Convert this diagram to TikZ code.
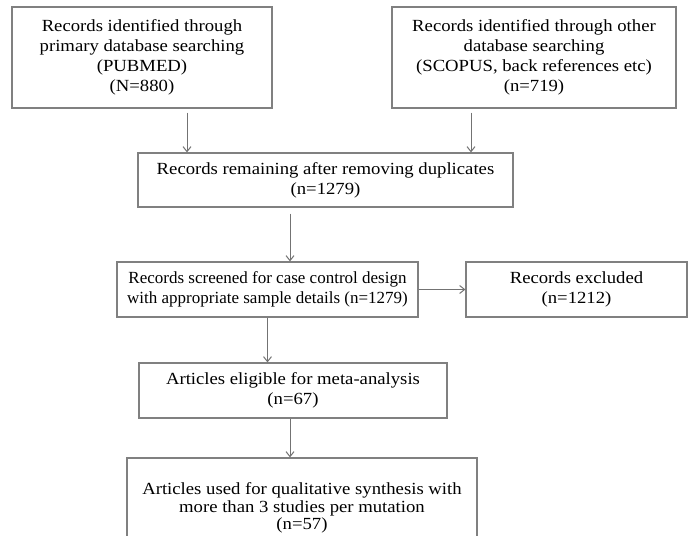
\documentclass[tikz,border=0pt]{standalone}
\usepackage{fontspec}
\setmainfont{Liberation Serif}[FakeStretch=1.1]
\newfontfamily\plainserif{Liberation Serif}
\usetikzlibrary{arrows.meta}

\begin{document}
\begin{tikzpicture}[x=1pt, y=-1pt,
    box/.style={draw=black!50, line width=1.2pt, align=center, inner sep=0pt,
      font=\fontsize{17}{20}\selectfont},
    arr/.style={draw=black!55, line width=1pt, -{Straight Barb[length=5pt,width=8pt]}}]
    \path[use as bounding box] (0,0) rectangle (690,535);
    \clip (0,0) rectangle (690,535);
    % boxes
    \node[box, minimum width=260pt, minimum height=101pt] (pubmed) at (142,57.5)
      {Records identified through\\ primary database searching\\ (PUBMED)\\ (N=880)};
    \node[box, minimum width=284pt, minimum height=101pt] (other) at (534,57.5)
      {Records identified through other\\ database searching\\ (SCOPUS, back references etc)\\ (n=719)};
    \node[box, minimum width=375pt, minimum height=54pt] (dedup) at (325.5,180)
      {Records remaining after removing duplicates\\ (n=1279)};
    \node[box, minimum width=301pt, minimum height=55pt, font=\plainserif\fontsize{17}{20}\selectfont]
      (screen) at (267.5,289.5)
      {Records screened for case control design\\ with appropriate sample details (n=1279)};
    \node[box, minimum width=221pt, minimum height=55pt] (excluded) at (576.5,289.5)
      {Records excluded\\ (n=1212)};
    \node[box, minimum width=308pt, minimum height=55pt] (eligible) at (293,390.5)
      {Articles eligible for meta-analysis\\ (n=67)};
    \node[box, minimum width=350pt, minimum height=100pt, font=\fontsize{17}{17.5}\selectfont]
      (synth) at (302,508)
      {Articles used for qualitative synthesis with\\ more than 3 studies per mutation\\ (n=57)};
    % arrows
    \draw[arr, shorten <=4pt] ([xshift=45pt]pubmed.south) -- ([xshift=45pt]pubmed.south |- dedup.north);
    \draw[arr, shorten <=4pt] ([xshift=-63pt]other.south) -- ([xshift=-63pt]other.south |- dedup.north);
    \draw[arr, shorten <=6pt] ([xshift=-35.5pt]dedup.south) -- ([xshift=-35.5pt]dedup.south |- screen.north);
    \draw[arr] (screen.east) -- (excluded.west);
    \draw[arr] (screen.south) -- (screen.south |- eligible.north);
    \draw[arr] ([xshift=-3pt]eligible.south) -- ([xshift=-3pt]eligible.south |- synth.north);
\end{tikzpicture}
\end{document}
